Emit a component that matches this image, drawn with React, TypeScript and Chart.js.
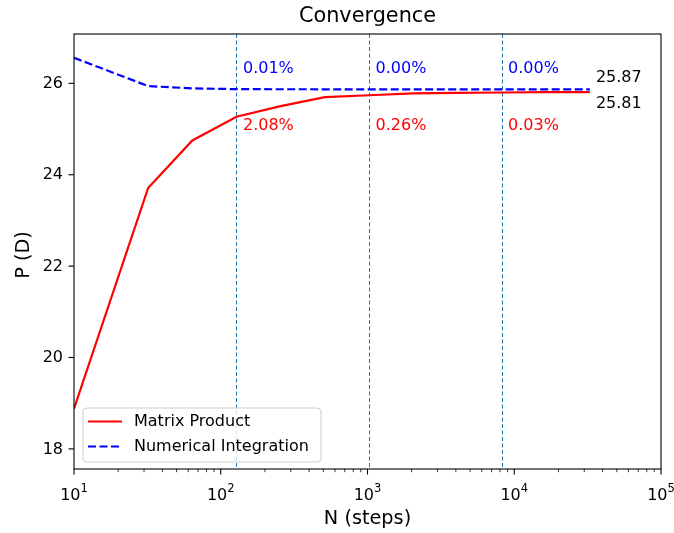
import React, { useEffect, useRef } from 'react';
import { Chart, registerables } from 'chart.js';
Chart.register(...registerables);

const N_STEPS = [10, 32, 64, 128, 256, 512, 1024, 2048, 4096, 8192, 16384, 32768];
const MATRIX_PRODUCT = [18.88, 23.71, 24.75, 25.27, 25.5, 25.7, 25.74, 25.78, 25.79, 25.8, 25.81, 25.81];
const NUMERICAL_INTEGRATION = [26.56, 25.94, 25.89, 25.873, 25.871, 25.87, 25.87, 25.87, 25.87, 25.87, 25.87, 25.87];
const CHECKPOINTS = [128, 1024, 8192];
const MP_PCT = ['2.08%', '0.26%', '0.03%'];
const NI_PCT = ['0.01%', '0.00%', '0.00%'];
const X_MAJOR = [10, 100, 1000, 10000, 100000];
const X_EXP = ['1', '2', '3', '4', '5'];
const Y_TICKS = [18, 20, 22, 24, 26];
const FINAL_NI = '25.87';
const FINAL_MP = '25.81';
const SERIES_NAMES = ['Matrix Product', 'Numerical Integration'];

const FONT = '"DejaVu Sans", sans-serif';
const RED = '#ff0000';
const BLUE = '#0000ff';
const C0 = '#1f77b4';

const decorPlugin = {
  id: 'decor',
  beforeDatasetsDraw(chart: any) {
    const { ctx, chartArea: a, scales } = chart;
    const x = scales.x;
    ctx.save();
    ctx.strokeStyle = C0;
    ctx.lineWidth = 1;
    ctx.setLineDash([4, 2.5]);
    CHECKPOINTS.forEach((n) => {
      const px = Math.round(x.getPixelForValue(n)) + 0.5;
      ctx.beginPath();
      ctx.moveTo(px, a.top);
      ctx.lineTo(px, a.bottom);
      ctx.stroke();
    });
    ctx.restore();
  },
  afterDraw(chart: any) {
    const { ctx, chartArea: a, scales } = chart;
    const x = scales.x;
    const y = scales.y;
    ctx.save();
    ctx.strokeStyle = '#000';
    ctx.lineWidth = 1.1;
    ctx.setLineDash([]);
    ctx.strokeRect(a.left, a.top, a.right - a.left, a.bottom - a.top);

    for (let k = 0; k < X_MAJOR.length; k++) {
      const base = X_MAJOR[k];
      const px = x.getPixelForValue(base);
      ctx.lineWidth = 1.1;
      ctx.beginPath();
      ctx.moveTo(px, a.bottom);
      ctx.lineTo(px, a.bottom + 5.5);
      ctx.stroke();
      if (k < X_MAJOR.length - 1) {
        ctx.lineWidth = 0.8;
        for (let m = 2; m <= 9; m++) {
          const mp = x.getPixelForValue(base * m);
          ctx.beginPath();
          ctx.moveTo(mp, a.bottom);
          ctx.lineTo(mp, a.bottom + 3.2);
          ctx.stroke();
        }
      }
      ctx.fillStyle = '#000';
      ctx.font = `16px ${FONT}`;
      const w1 = ctx.measureText('10').width;
      ctx.font = `11.5px ${FONT}`;
      const w2 = ctx.measureText(X_EXP[k]).width;
      const start = px - (w1 + w2) / 2;
      ctx.textAlign = 'left';
      ctx.textBaseline = 'alphabetic';
      ctx.font = `16px ${FONT}`;
      ctx.fillText('10', start, 500);
      ctx.font = `11.5px ${FONT}`;
      ctx.fillText(X_EXP[k], start + w1, 492);
    }

    ctx.lineWidth = 1.1;
    ctx.font = `16px ${FONT}`;
    ctx.textAlign = 'right';
    ctx.textBaseline = 'middle';
    Y_TICKS.forEach((v) => {
      const py = y.getPixelForValue(v);
      ctx.beginPath();
      ctx.moveTo(a.left, py);
      ctx.lineTo(a.left - 5.5, py);
      ctx.stroke();
      ctx.fillText(String(v), a.left - 11, py + 0.5);
    });

    ctx.textAlign = 'left';
    ctx.textBaseline = 'middle';
    CHECKPOINTS.forEach((n, i) => {
      const px = x.getPixelForValue(n) + 6.5;
      ctx.fillStyle = BLUE;
      ctx.fillText(NI_PCT[i], px, y.getPixelForValue(26.32));
      ctx.fillStyle = RED;
      ctx.fillText(MP_PCT[i], px, y.getPixelForValue(25.06));
    });

    ctx.fillStyle = '#000';
    const endPx = x.getPixelForValue(N_STEPS[N_STEPS.length - 1]) + 6;
    ctx.fillText(FINAL_NI, endPx, y.getPixelForValue(26.12));
    ctx.fillText(FINAL_MP, endPx, y.getPixelForValue(25.56));

    ctx.textAlign = 'center';
    ctx.textBaseline = 'alphabetic';
    ctx.fillStyle = '#000';
    ctx.font = `20.8px ${FONT}`;
    ctx.fillText('Convergence', (a.left + a.right) / 2, 21.7);
    ctx.font = `19.3px ${FONT}`;
    ctx.fillText('N (steps)', (a.left + a.right) / 2, 524);
    ctx.save();
    ctx.translate(29, 255);
    ctx.rotate(-Math.PI / 2);
    ctx.fillText('P (D)', 0, 0);
    ctx.restore();

    const lx = 83, ly = 408, lw = 238, lh = 54, r = 4;
    ctx.beginPath();
    ctx.moveTo(lx + r, ly);
    ctx.lineTo(lx + lw - r, ly);
    ctx.arcTo(lx + lw, ly, lx + lw, ly + r, r);
    ctx.lineTo(lx + lw, ly + lh - r);
    ctx.arcTo(lx + lw, ly + lh, lx + lw - r, ly + lh, r);
    ctx.lineTo(lx + r, ly + lh);
    ctx.arcTo(lx, ly + lh, lx, ly + lh - r, r);
    ctx.lineTo(lx, ly + r);
    ctx.arcTo(lx, ly, lx + r, ly, r);
    ctx.closePath();
    ctx.fillStyle = 'rgba(255,255,255,0.8)';
    ctx.fill();
    ctx.strokeStyle = '#cccccc';
    ctx.lineWidth = 1;
    ctx.stroke();

    const rows = [421.5, 446.5];
    ctx.lineWidth = 2.2;
    ctx.strokeStyle = RED;
    ctx.beginPath();
    ctx.moveTo(88, rows[0]);
    ctx.lineTo(122, rows[0]);
    ctx.stroke();
    ctx.strokeStyle = BLUE;
    ctx.setLineDash([8, 3.5]);
    ctx.beginPath();
    ctx.moveTo(88, rows[1]);
    ctx.lineTo(122, rows[1]);
    ctx.stroke();
    ctx.setLineDash([]);
    ctx.fillStyle = '#000';
    ctx.textAlign = 'left';
    ctx.textBaseline = 'middle';
    ctx.font = `16px ${FONT}`;
    ctx.fillText(SERIES_NAMES[0], 134, rows[0] + 0.5);
    ctx.fillText(SERIES_NAMES[1], 134, rows[1] + 0.5);
    ctx.restore();
  },
};

export default function App() {
  const ref = useRef<HTMLCanvasElement | null>(null);
  useEffect(() => {
    if (!ref.current) return;
    const chart = new Chart(ref.current, {
      type: 'line',
      data: {
        datasets: [
          {
            label: SERIES_NAMES[0],
            data: N_STEPS.map((n, i) => ({ x: n, y: MATRIX_PRODUCT[i] })),
            borderColor: RED,
            borderWidth: 2.2,
            pointRadius: 0,
            tension: 0,
          },
          {
            label: SERIES_NAMES[1],
            data: N_STEPS.map((n, i) => ({ x: n, y: NUMERICAL_INTEGRATION[i] })),
            borderColor: BLUE,
            borderWidth: 2.2,
            borderDash: [8, 3.5],
            pointRadius: 0,
            tension: 0,
          },
        ],
      },
      options: {
        animation: false,
        responsive: false,
        layout: { padding: { left: 0, top: 34, right: 13, bottom: 0 } },
        plugins: { legend: { display: false }, tooltip: { enabled: false }, title: { display: false } },
        scales: {
          x: {
            type: 'logarithmic',
            min: 10,
            max: 100000,
            grid: { display: false },
            border: { display: false },
            ticks: { display: false },
            afterFit: (s: any) => { s.height = 64; },
          },
          y: {
            type: 'linear',
            min: 17.56,
            max: 27.08,
            grid: { display: false },
            border: { display: false },
            ticks: { display: false },
            afterFit: (s: any) => { s.width = 74; },
          },
        },
      },
      plugins: [decorPlugin],
    });
    return () => chart.destroy();
  }, []);
  return (
    <div style={{ position: 'fixed', left: 0, top: 0, width: 674, height: 533, background: '#fff' }}>
      <canvas ref={ref} width={674} height={533} />
    </div>
  );
}
